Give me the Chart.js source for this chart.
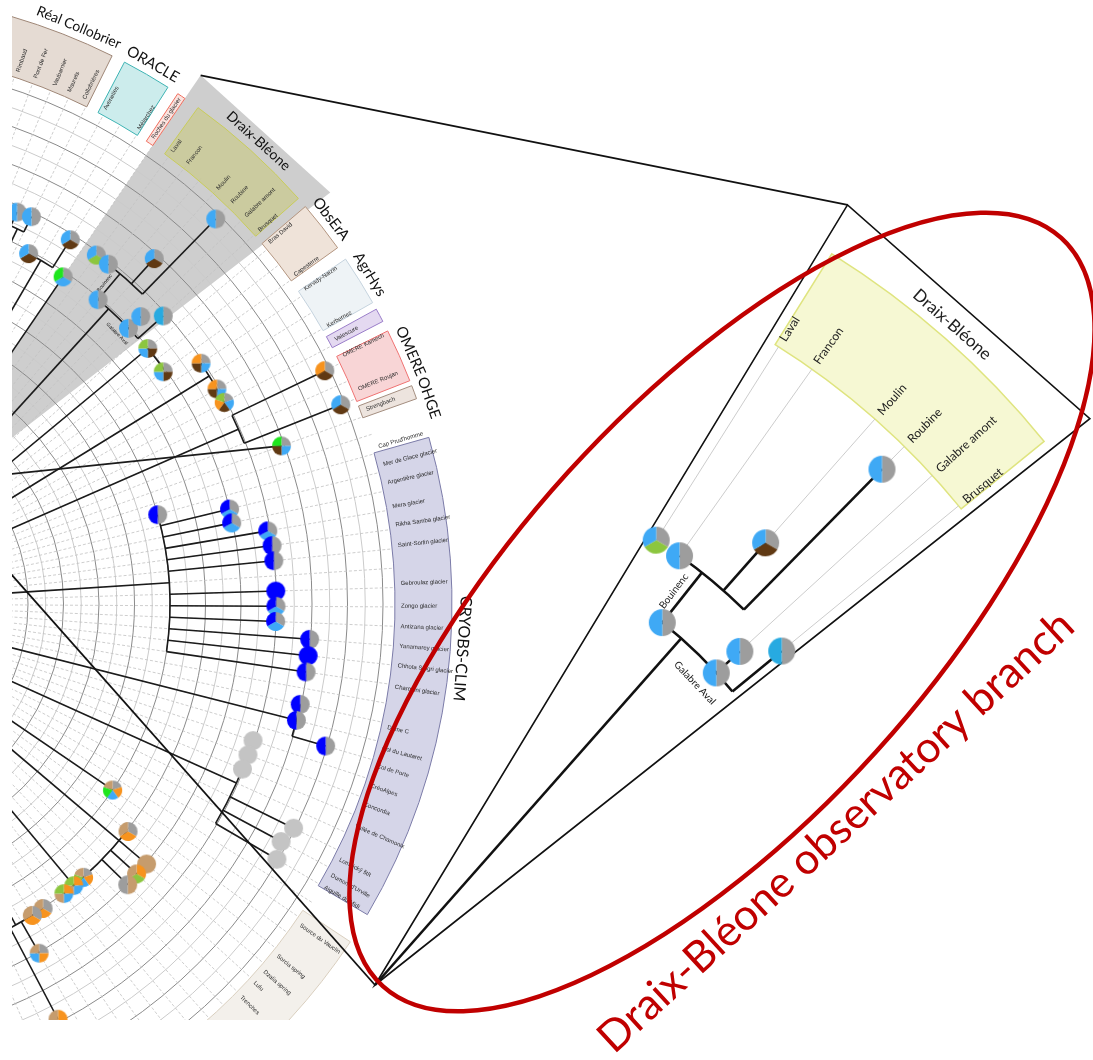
<!DOCTYPE html>
<html>
<head>
<meta charset="utf-8">
<script src="https://cdn.jsdelivr.net/npm/chart.js@4.4.1/dist/chart.umd.min.js"></script>
<style>
html, body { margin: 0; padding: 0; background: #fff; }
#page { position: relative; width: 1093px; height: 1060px; overflow: hidden; background: #fff; }
#tree { position: absolute; left: 12px; top: 0; }
#zoom { position: absolute; left: 0; top: 0; }
</style>
</head>
<body>
<div id="page">
  <canvas id="tree" width="470" height="1020"></canvas>
  <canvas id="zoom" width="1093" height="1060"></canvas>
</div>
<script>
// slots: main tree = 2 degrees per slot, zoomed branch = same slots spread wider
const SLOTS_MAIN = 180;
const SLOTS_ZOOM = 118;

// gauging nodes (slot, radius, pie slices clockwise from 12 o'clock)
const nodeSlot = [57,58,59,61,62, 63,64,65,66,67,68,68,69, 70,72,73,75,76,77,79,80,
  82,83,84,85,86,87,89,90,91,92,93,94, 96,97,98, 99,100,101,103,104,105,
  107,109,110,111,112,114,115,116,118,119,120,121];
const nodeRadius = [430,432,398,431,396, 433,433,399,467,538,399,416,433, 400,398,434,434,434,538,539,469,
  330,401,400,434,436,436,436,436,436,471,471,471, 471,471,506, 435,435,435,506,501,506,
  330,367,402,401,402,366,366,366,366,366,402,469];
const nodePie = ['GL','GL','GNL','GNL','GLZ', 'GVL','GL','GL','GNL','GL','GL','GL','GC',
  'GNLV','GNLV','GLNO','GLNO','GLNOV','GNO','GNL','GLNZ',
  'GB','GLB','GLB','GLB','GB','GB','B','GLB','GLB','GB','B','GB', 'GB','GB','GB',
  'g','g','g','g','g','g',
  'GOLZT','GOT','T','OVT','TG','GOLVT','OLTV','OLTV','GOT','GOT','GOLT','OT'];
const pieColour = { B: '#0000ff', L: '#3fa9f5', G: '#9d9d9d', N: '#603913', O: '#f7931e',
  V: '#8cc63f', Z: '#1ee61e', T: '#c69c6d', C: '#27aae1', g: '#c4c4c4' };

// tree branches as polylines of [slot, radius]
const branches = [
  [[57.5,150],[57.5,415]], [[57,415],[58,415]], [[57,415],[57,430]], [[58,415],[58,432]],
  [[60,150],[60,398]], [[59,398],[61,398]], [[61,398],[61,431]],
  [[62,150],[62,396]],
  [[66,150],[66,399]], [[65,399],[69,399]], [[65,399],[65,433]], [[64,433],[67,433]],
  [[66,433],[66,467]], [[67,433],[67,538]], [[68,399],[68,416]], [[69,399],[69,433]],
  [[70,150],[70,400]], [[70,400],[72,400]],
  [[74,150],[74,434]], [[73,434],[76,434]],
  [[78,150],[78,435]], [[77,435],[79,435]], [[77,435],[77,538]], [[79,435],[79,539]],
  [[60.7,141],[80,469]],
  [[88,150],[88,330]], [[82,330],[94,330]],
  [[83,330],[83,401]], [[84,330],[84,400]], [[85,330],[85,434]], [[86,330],[86,436]], [[87,330],[87,436]],
  [[89,330],[89,436]], [[90,330],[90,436]], [[91,330],[91,436]], [[92,330],[92,471]], [[93,330],[93,471]], [[94,330],[94,471]],
  [[97,150],[97,471]], [[96,471],[98,471]], [[98,471],[98,506]],
  [[102,150],[102,435]], [[99,435],[105,435]], [[103,435],[103,506]], [[104,435],[104,501]], [[105,435],[105,506]],
  [[107,150],[107,330]],
  [[110,150],[110,366]], [[109,366],[116,366]], [[110,366],[110,402]], [[111,366],[111,401]], [[112,366],[112,402]],
  [[115,150],[115,366]],
  [[120.5,150],[120.5,366]], [[118,366],[121,366]], [[120,366],[120,402]], [[121,366],[121,469]]
];

// observatories on the outer ring
const groupName = ['Réal Collobrier','ORACLE','','Draix-Bléone','ObsErA','AgrHys','','OMERE','OHGE','CRYOBS-CLIM',''];
const groupFrom = [53.0, 58.7, 61.6, 62.75, 69.6, 72.7, 75.45, 76.6, 79.4, 81.95, 106.6];
const groupTo   = [58.05, 61.05, 62.0, 69.1, 72.05, 75.1, 76.1, 79.15, 80.05, 105.1, 125];
const groupTitleSlot = [56.1, 59.9, null, 65.9, 70.8, 73.9, null, 77.9, 80.2, 91.9, null];
const groupTitleSize = [14, 15, 0, 14, 15, 15, 0, 15, 15, 16, 0];
const groupFill = ['#e5dbd3','#ccecec','#fbe3df','rgba(200,200,120,0.55)','#efe3d9','#eef3f6','#e4d9f1','#f8d5d6','#ede4de','#d5d5e8','#f3f0eb'];
const groupEdge = ['#9e8676','#3db3b3','#f06c5c','#c9cc5a','#b39580','#c5d3de','#9a7dc9','#ef7272','#a38d7f','#7b7ba8','#d9cfbf'];

// site names written in the ring
const tipSlot = [54.1,55.05,56.1,56.9,57.75, 58.95,60.95, 61.8, 63,64,66,67,68,69, 69.8,71.9, 72.8,75, 75.8, 76.7,78.6, 79.7,
  81.7,82.65,83.6,84.85,85.8,86.85,88.8,89.95,91,92,93,94.1,96.2,97.3,98.25,99.3,100.3,101.5,103.4,104.3,105,
  107.3,109.25,110.3,111.05,112.05];
const tipText = ['Rimbaud','Pont de Fer','Vaubarnier','Maurets','Collobrières', 'Avenelles','Mélarchez', 'Roches du glacier',
  'Laval','Francon','Moulin','Roubine','Galabre amont','Brusquet', 'Bras David','Capesterre', 'Kervidy-Naizin','Kerbernez',
  'Valescure', 'OMERE Kamech','OMERE Roujan', 'Strengbach',
  "Cap Prud'homme",'Mer de Glace glacier','Argentière glacier','Mera glacier','Rikha Samba glacier','Saint-Sorlin glacier',
  'Gebroulaz glacier','Zongo glacier','Antizana glacier','Yanamarey glacier','Chhota Shigri glacier','Charquini glacier',
  'Dôme C','Col du Lautaret','Col de Porte','CréoAlpes','Concordia','Vallée de Chamonix','Lomnický štít',"Dumont d'Urville",'Aiguille du Midi',
  'Source du Vauclin','Sorcia spring','Dzalia spring','Lulu','Trenches'];

const noteText = ['Bouinenc', 'Galabre Aval'];
const noteSlot = [64.6, 67.7];
const noteRadius = [416, 387];
const noteAlong = [false, true];

// grey highlight of the branch, zoom wedge and links between them
const highlight = [[62,152.5],[62,640],[69.85,640],[66,152.5]];
const wedgeSlots = [62.64, 69.33];
const wedgeRadius = 638.6;
const linkMain = [[62,640],[62,152.5]];

const ringBox = [555, 612];
const ring = { cx: 722, cy: 612, rx: 505, ry: 208, tilt: -47.8 };
const caption = { text: 'Draix-Bléone observatory branch', x: 614, y: 1055, angle: -42.6, width: 628 };

const ringValues = [0];
for (let v = 152.5; v <= 545; v += 17.75) ringValues.push(v);

function makePie(code, rad) {
  const c = document.createElement('canvas');
  const s = Math.ceil(rad * 2) + 2;
  c.width = c.height = s;
  const x = c.getContext('2d');
  const n = code.length;
  for (let i = 0; i < n; i++) {
    x.beginPath();
    x.moveTo(s / 2, s / 2);
    x.arc(s / 2, s / 2, rad, -Math.PI / 2 + i * 2 * Math.PI / n, -Math.PI / 2 + (i + 1) * 2 * Math.PI / n);
    x.closePath();
    x.fillStyle = pieColour[code[i]];
    x.fill();
  }
  return c;
}

function nodeDatasets(nSlots, keep, rad) {
  const sets = [];
  nodeSlot.forEach((s, k) => {
    if (!keep(s)) return;
    const data = new Array(nSlots).fill(null);
    data[s] = nodeRadius[k];
    sets.push({ data, showLine: false, fill: false, borderWidth: 0,
      pointRadius: rad, pointStyle: makePie(nodePie[k], rad), pointBorderWidth: 0 });
  });
  return sets.reverse();
}

function sa(sc, s) { return sc.getIndexAngle(s) - Math.PI / 2; }
function pt(sc, s, r) { return sc.getPointPositionForValue(s, r); }

function tracePolyline(ctx, sc, pts, rMin) {
  ctx.beginPath();
  for (let i = 0; i < pts.length; i++) {
    const s = pts[i][0], r = Math.max(pts[i][1], rMin);
    const p = pt(sc, s, r);
    if (i === 0) { ctx.moveTo(p.x, p.y); continue; }
    const ps = pts[i - 1][0], pr = Math.max(pts[i - 1][1], rMin);
    if (pr === r && ps !== s) {
      const a0 = sa(sc, ps), a1 = sa(sc, s);
      ctx.arc(sc.xCenter, sc.yCenter, sc.getDistanceFromCenterForValue(r), a0, a1, a1 < a0);
    } else {
      ctx.lineTo(p.x, p.y);
    }
  }
  ctx.stroke();
}

function traceSector(ctx, sc, s0, s1, r0, r1) {
  const a0 = sa(sc, s0), a1 = sa(sc, s1);
  ctx.beginPath();
  ctx.arc(sc.xCenter, sc.yCenter, sc.getDistanceFromCenterForValue(r1), a0, a1);
  ctx.arc(sc.xCenter, sc.yCenter, sc.getDistanceFromCenterForValue(r0), a1, a0, true);
  ctx.closePath();
}

function textAt(ctx, sc, s, r, str, along, align) {
  const p = pt(sc, s, r), a = sa(sc, s);
  ctx.save();
  ctx.translate(p.x, p.y);
  ctx.rotate(along ? a + Math.PI / 2 : a);
  ctx.textAlign = align || (along ? 'center' : 'left');
  ctx.textBaseline = 'middle';
  ctx.fillText(str, 0, 0);
  ctx.restore();
}

const treeDecor = {
  id: 'treeDecor',
  beforeDraw(chart) {
    const sc = chart.scales.r, ctx = chart.ctx;
    ctx.save();
    ctx.fillStyle = '#cecece';
    ctx.beginPath();
    highlight.forEach(([s, r], i) => { const p = pt(sc, s, r); i ? ctx.lineTo(p.x, p.y) : ctx.moveTo(p.x, p.y); });
    ctx.closePath();
    ctx.fill();
    ctx.restore();
  },
  beforeDatasetsDraw(chart) {
    const sc = chart.scales.r, ctx = chart.ctx;
    ctx.save();
    ctx.strokeStyle = '#1b1b1b';
    ctx.lineWidth = 1.6;
    branches.forEach(b => tracePolyline(ctx, sc, b, 0));
    groupName.forEach((name, g) => {
      traceSector(ctx, sc, groupFrom[g], groupTo[g], ringBox[0], ringBox[1]);
      ctx.fillStyle = groupFill[g];
      ctx.fill();
      ctx.strokeStyle = groupEdge[g];
      ctx.lineWidth = 1;
      ctx.stroke();
    });
    ctx.fillStyle = '#2a2a2a';
    ctx.font = '6px "Liberation Sans"';
    tipText.forEach((t, k) => textAt(ctx, sc, tipSlot[k], 561, t, false));
    ctx.fillStyle = '#111';
    groupName.forEach((name, g) => {
      if (!name) return;
      ctx.font = groupTitleSize[g] + 'px Lato';
      textAt(ctx, sc, groupTitleSlot[g], 624, name, true);
    });
    ctx.font = '5px "Liberation Sans"';
    noteText.forEach((t, k) => textAt(ctx, sc, noteSlot[k], noteRadius[k], t, noteAlong[k], 'center'));
    ctx.restore();
  }
};

const mainLabels = Array.from({ length: SLOTS_MAIN }, (_, i) => {
  const k = tipSlot.indexOf(i);
  return k >= 0 ? tipText[k] : '';
});
const zoomLabels = mainLabels.slice(0, SLOTS_ZOOM);

const mainChart = new Chart(document.getElementById('tree'), {
  type: 'radar',
  data: { labels: mainLabels, datasets: nodeDatasets(SLOTS_MAIN, () => true, 9.5) },
  options: {
    responsive: false, animation: false, events: [],
    plugins: { legend: { display: false }, tooltip: { enabled: false } },
    layout: { padding: 0 },
    scales: {
      r: {
        min: 0, max: 560, startAngle: -89.7,
        pointLabels: { display: false },
        ticks: { display: false },
        grid: {
          circular: true, lineWidth: 1,
          color: (c) => Math.round((c.tick.value - 152.5) / 17.75) % 2 === 0 ? '#8a8a8a' : '#cbcbcb'
        },
        angleLines: { color: '#c2c2c2', lineWidth: 0.8, borderDash: [3, 2] },
        afterBuildTicks: (s) => { s.ticks = ringValues.map(v => ({ value: v })); },
        afterFit: (s) => { s.xCenter = -172; s.yCenter = 604; s.drawingArea = 560; }
      }
    }
  },
  plugins: [treeDecor]
});

const inZoom = (s) => s > 62.5 && s < 69.5;

const zoomDecor = {
  id: 'zoomDecor',
  beforeDatasetsDraw(chart) {
    const sc = chart.scales.r, ctx = chart.ctx;
    ctx.save();
    const c1 = pt(sc, wedgeSlots[0], wedgeRadius), c2 = pt(sc, wedgeSlots[1], wedgeRadius);
    ctx.strokeStyle = '#111';
    ctx.lineWidth = 1.6;
    ctx.beginPath();
    ctx.moveTo(sc.xCenter, sc.yCenter);
    ctx.lineTo(c1.x, c1.y);
    ctx.lineTo(c2.x, c2.y);
    ctx.closePath();
    ctx.stroke();

    traceSector(ctx, sc, 62.9, 69.1, ringBox[0], ringBox[1]);
    ctx.fillStyle = '#f6f8d3';
    ctx.fill();
    ctx.strokeStyle = '#dfe47f';
    ctx.lineWidth = 1.5;
    ctx.stroke();

    ctx.strokeStyle = '#c6c6c6';
    ctx.lineWidth = 0.9;
    tipSlot.forEach((s) => {
      if (!inZoom(s)) return;
      let rr = -1;
      nodeSlot.forEach((ns, k) => { if (ns === s) rr = Math.max(rr, nodeRadius[k]); });
      if (rr < 0) return;
      const a = pt(sc, s, rr), b = pt(sc, s, ringBox[0]);
      ctx.beginPath(); ctx.moveTo(a.x, a.y); ctx.lineTo(b.x, b.y); ctx.stroke();
    });

    ctx.fillStyle = '#222';
    ctx.font = '12px Lato';
    tipSlot.forEach((s, k) => { if (inZoom(s)) textAt(ctx, sc, s, 559, tipText[k], false); });
    ctx.font = '17px Lato';
    textAt(ctx, sc, groupTitleSlot[3], 620, groupName[3], true);

    ctx.strokeStyle = '#111';
    ctx.lineWidth = 2.6;
    branches.filter(b => b.every(p => inZoom(p[0]))).forEach(b => tracePolyline(ctx, sc, b, sc.min));

    ctx.font = '10px Lato';
    noteText.forEach((t, k) => textAt(ctx, sc, noteSlot[k], noteRadius[k], t, noteAlong[k], 'center'));
    ctx.restore();
  },
  afterDraw(chart) {
    const sc = chart.scales.r, ctx = chart.ctx;
    const ms = mainChart.scales.r;
    const off = { x: mainChart.canvas.offsetLeft, y: mainChart.canvas.offsetTop };
    ctx.save();
    ctx.beginPath();
    ctx.rect(off.x, 0, chart.width, chart.height);
    ctx.clip();
    ctx.strokeStyle = '#111';
    ctx.lineWidth = 1.8;
    linkMain.forEach(([s, r], i) => {
      const a = pt(ms, s, r);
      const b = i === 0 ? pt(sc, wedgeSlots[0], wedgeRadius) : { x: sc.xCenter, y: sc.yCenter };
      ctx.beginPath();
      ctx.moveTo(a.x + off.x, a.y + off.y);
      ctx.lineTo(b.x, b.y);
      ctx.stroke();
    });
    ctx.restore();

    ctx.save();
    ctx.strokeStyle = '#c00000';
    ctx.lineWidth = 4.5;
    ctx.beginPath();
    ctx.ellipse(ring.cx, ring.cy, ring.rx, ring.ry, ring.tilt * Math.PI / 180, 0, 2 * Math.PI);
    ctx.stroke();

    ctx.font = '40px Lato';
    const fs = 40 * caption.width / ctx.measureText(caption.text).width;
    ctx.font = fs.toFixed(1) + 'px Lato';
    ctx.fillStyle = '#c00000';
    ctx.translate(caption.x, caption.y);
    ctx.rotate(caption.angle * Math.PI / 180);
    ctx.textAlign = 'left';
    ctx.textBaseline = 'alphabetic';
    ctx.fillText(caption.text, 0, 0);
    ctx.restore();
  }
};

new Chart(document.getElementById('zoom'), {
  type: 'radar',
  data: { labels: zoomLabels, datasets: nodeDatasets(SLOTS_ZOOM, inZoom, 13.5) },
  options: {
    responsive: false, animation: false, events: [],
    plugins: { legend: { display: false }, tooltip: { enabled: false } },
    layout: { padding: 0 },
    scales: {
      r: {
        min: 152.5, max: 638.6, startAngle: -159.9,
        pointLabels: { display: false },
        ticks: { display: false },
        grid: { display: false },
        angleLines: { display: false },
        afterFit: (s) => { s.xCenter = 375; s.yCenter = 985; s.drawingArea = 912; }
      }
    }
  },
  plugins: [zoomDecor]
});
</script>
</body>
</html>
